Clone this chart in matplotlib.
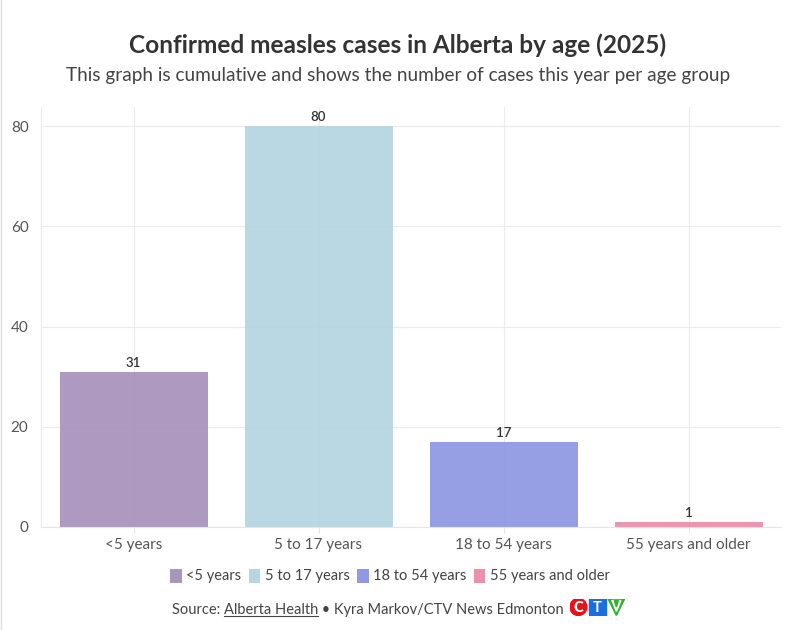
import matplotlib
matplotlib.use("Agg")
import matplotlib.pyplot as plt
from matplotlib.patches import Patch, Circle, Rectangle, Polygon
from matplotlib.lines import Line2D

# data
ages = ["<5 years", "5 to 17 years", "18 to 54 years", "55 years and older"]
cases = [31, 80, 17, 1]
bar_colors = ["#a58fba", "#b3d3e2", "#8b95e0", "#ec8aa8"]
yticks = [0, 20, 40, 60, 80]

plt.rcParams['font.family'] = ['Lato', 'DejaVu Sans']

W, H = 793, 630
fig = plt.figure(figsize=(W / 100, H / 100), dpi=100)
fig.patch.set_facecolor("white")

ax = fig.add_axes([41 / W, (H - 527) / H, 740 / W, 420 / H])
x = list(range(len(ages)))
bars = ax.bar(x, cases, width=0.8, color=bar_colors, alpha=0.9, zorder=2)
for xi, v in zip(x, cases):
    ax.text(xi, v + 0.6, str(v), ha="center", va="bottom", fontsize=9.5,
            color="#333333", fontweight="semibold")

ax.set_xlim(-0.5, 3.5)
ax.set_ylim(0, (527 - 107) / ((527 - 126) / 80))
ax.set_yticks(yticks)
ax.set_xticks(x)
ax.set_xticklabels(ages)
ax.grid(True, color="#ebebeb", linewidth=0.8, zorder=0)
ax.set_axisbelow(True)
for s in ["top", "right"]:
    ax.spines[s].set_visible(False)
ax.spines["left"].set_color("#ebebeb")
ax.spines["bottom"].set_color("#e6e6e6")
ax.tick_params(axis="y", length=0, labelsize=11, labelcolor="#555555", pad=9)
ax.tick_params(axis="x", length=4, color="#e6e6e6", labelsize=11,
               labelcolor="#555555", pad=4)

# titles
fig.text(398 / W, 1 - 45 / H, "Confirmed measles cases in Alberta by age (2025)",
         ha="center", va="center", fontsize=17.6, fontweight="bold", color="#333333")
fig.text(398 / W, 1 - 75 / H,
         "This graph is cumulative and shows the number of cases this year per age group",
         ha="center", va="center", fontsize=13.7, color="#444444")

# legend
handles = [Patch(facecolor=c, edgecolor="none", alpha=0.95) for c in bar_colors]
fig.legend(handles, ages, loc="center", bbox_to_anchor=(390 / W, 1 - 576 / H),
           ncol=4, frameon=False, fontsize=10.5, handlelength=0.8, handleheight=1.1,
           handletextpad=0.3, columnspacing=0.5, labelcolor="#444444")

# source line with underlined link
fig.canvas.draw()
r = fig.canvas.get_renderer()
ys = 1 - 610 / H
t1 = fig.text(172 / W, ys, "Source: ", ha="left", va="center", fontsize=10.5, color="#444444")
e1 = t1.get_window_extent(r)
t2 = fig.text(e1.x1 / W, ys, "Alberta Health", ha="left", va="center", fontsize=10.5,
              color="#444444")
e2 = t2.get_window_extent(r)
fig.add_artist(Line2D([e2.x0 / W, e2.x1 / W], [(e2.y0 + 1) / H] * 2, color="#444444",
                      linewidth=0.8))
t3 = fig.text(e2.x1 / W, ys, " \u2022 Kyra Markov/CTV News Edmonton", ha="left",
              va="center", fontsize=10.5, color="#444444")
e3 = t3.get_window_extent(r)

# CTV logo
lx = e3.x1 + 6
cy = (1 - 607 / H) * H
sz = 17
la = fig.add_axes([lx / W, (cy - sz / 2) / H, (3 * sz + 4) / W, sz / H])
la.set_xlim(0, 3 * sz + 4)
la.set_ylim(0, sz)
la.axis("off")
la.add_patch(Circle((sz / 2, sz / 2), sz / 2, color="#e4121b"))
la.text(sz / 2, sz / 2 - 0.5, "C", ha="center", va="center", color="white",
        fontsize=10.5, fontweight="heavy")
la.add_patch(Rectangle((sz + 2, 0), sz, sz, color="#1a6fe0"))
la.text(sz * 1.5 + 2, sz / 2 - 0.5, "T", ha="center", va="center", color="white",
        fontsize=10.5, fontweight="bold")
la.add_patch(Polygon([(2 * sz + 4, sz), (3 * sz + 4, sz), (2.5 * sz + 4, 0)],
                     closed=True, color="#2bb52b"))
la.add_patch(Polygon([(2 * sz + 8, sz - 2), (3 * sz, sz - 2), (2.5 * sz + 4, 4)],
                     closed=True, color="white"))
la.add_patch(Polygon([(2 * sz + 10.5, sz - 2), (3 * sz - 2.5, sz - 2), (2.5 * sz + 4, 8.5)],
                     closed=True, color="#2bb52b"))

# faint page border on the left
fig.add_artist(Line2D([1 / W, 1 / W], [0, 1], color="#e0e0e0", linewidth=1))

fig.savefig("out.png", dpi=100)
